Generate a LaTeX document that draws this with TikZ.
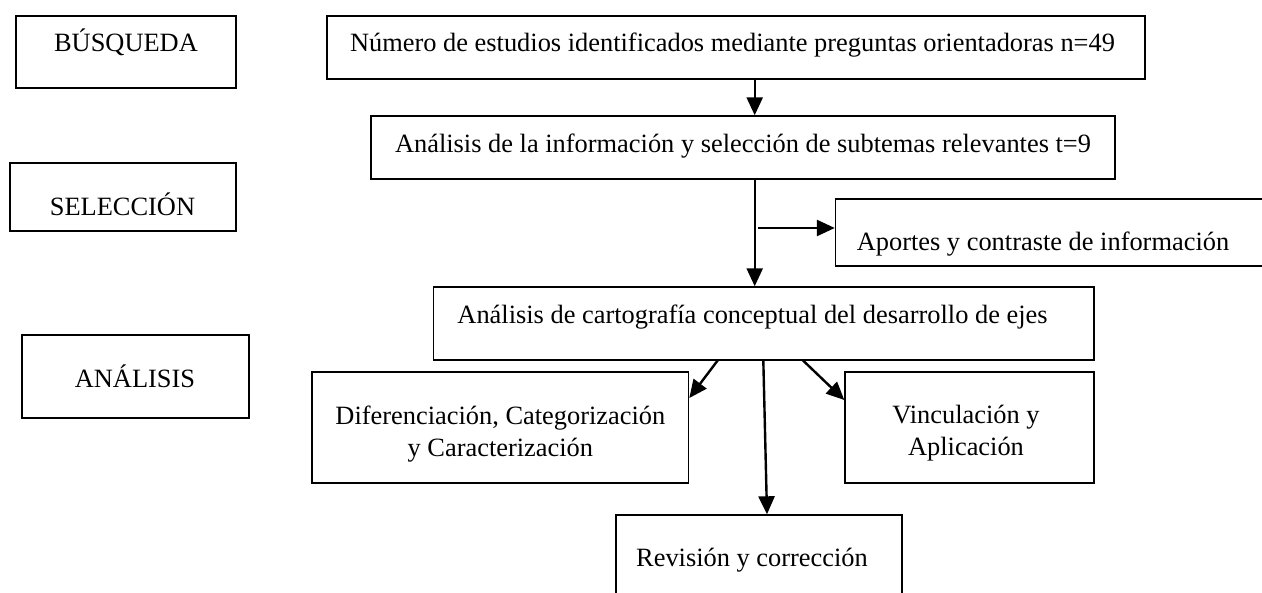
\documentclass[tikz,border=0pt]{standalone}
\usepackage{fontspec}
\setmainfont{Liberation Serif}
\usetikzlibrary{fit,arrows.meta}

\tikzstyle{capBox} = [rectangle, draw=black, line width=0.7pt, inner sep=0pt]
\tikzstyle{txt} = [inner sep=0pt, align=center, font=\fontsize{13.2}{15.8}\selectfont]
\tikzstyle{arrow} = [line width=1.2pt,-{Triangle[length=9pt,width=8pt]}]

\begin{document}
\begin{tikzpicture}[x=0.5pt,y=-0.5pt]
    \useasboundingbox (0,0) rectangle (1262,593);
    % etapas
    \node (busq)[capBox, fit={(16,16) (236,88)}] {};
    \node (selec)[capBox, fit={(10,163) (236,231)}] {};
    \node (anal)[capBox, fit={(22,335) (249,418)}] {};
    \node (busqT)[txt, anchor=base] at (126,52) {BÚSQUEDA};
    \node (selecT)[txt, anchor=base] at (122.5,215) {SELECCIÓN};
    \node (analT)[txt, anchor=base] at (135,387) {ANÁLISIS};

    % flujo
    \node (numero)[capBox, fit={(327,16) (1145,79)}] {};
    \node (info)[capBox, fit={(371,116) (1115,179)}] {};
    \node (aportes)[capBox, fit={(835.5,199) (1290,266)}] {};
    \node (carto)[capBox, fit={(433.5,287) (1094,360)}] {};
    \node (difer)[capBox, fit={(312,372) (688.6,483)}] {};
    \node (vinc)[capBox, fit={(845,372) (1094,483)}] {};
    \node (revis)[capBox, fit={(616,515) (902,610)}] {};

    \node (numeroT)[txt, anchor=base] at (732.5,52) {Número de estudios identificados mediante preguntas orientadoras n=49};
    \node (infoT)[txt, anchor=base] at (743,152.5) {Análisis de la información y selección de subtemas relevantes t=9};
    \node (aportesT)[txt, anchor=base] at (1043,250) {Aportes y contraste de información};
    \node (cartoT)[txt, anchor=base] at (752.5,323) {Análisis de cartografía conceptual del desarrollo de ejes};
    \node (diferT)[txt] at (500.4,434) {Diferenciación, Categorización\\y Caracterización};
    \node (vincT)[txt] at (966,433) {Vinculación y\\Aplicación};
    \node (revisT)[txt, anchor=base] at (752,566.5) {Revisión y corrección};

    \coordinate (eje) at (754.7,0);
    \coordinate (rama) at (758.4,228);
    \coordinate (sIzq) at (718,360);
    \coordinate (sCen) at (763.3,360);
    \coordinate (sDer) at (802.5,360);

    \draw [arrow] (numero.south -| eje) -- (info.north -| eje);
    \draw [arrow] (info.south -| eje) -- (carto.north -| eje);
    \draw [arrow] (rama) -- (rama -| aportes.west);
    \draw [arrow] (sIzq) -- (difer.east |- 0,398);
    \draw [arrow] (sCen) -- (revis.north -| 767,0);
    \draw [arrow] (sDer) -- (vinc.west |- 0,400);

\end{tikzpicture}
\end{document}
